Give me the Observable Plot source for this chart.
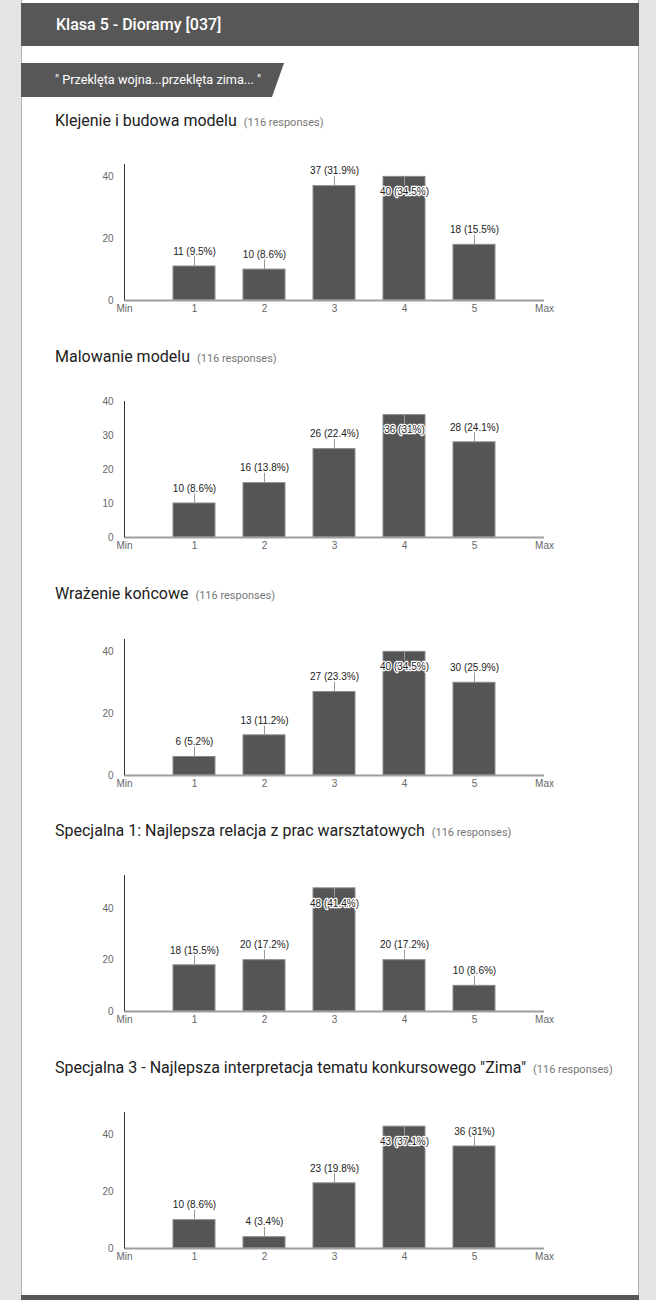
<!DOCTYPE html>
<html><head><meta charset="utf-8">
<script src="https://cdn.jsdelivr.net/npm/d3@7"></script>
<script src="https://cdn.jsdelivr.net/npm/@observablehq/plot@0.6"></script>
<style>
html,body{margin:0;padding:0;}
body{background:#e4e4e4;width:656px;height:1300px;overflow:hidden;position:relative;font-family:Roboto,"Liberation Sans",sans-serif;}
#card{position:absolute;left:21px;top:0;width:616px;height:1300px;background:#fff;border-left:1px solid #b0b0b0;border-right:1px solid #b0b0b0;}
#header{position:absolute;left:21px;top:3px;width:618px;height:43px;background:#575757;color:#fff;font-weight:500;font-size:16px;line-height:43px;box-sizing:border-box;padding-left:35px;}
#banner{position:absolute;left:21px;top:63px;width:263px;height:34px;background:#575757;color:#fff;font-size:12.7px;line-height:34px;box-sizing:border-box;padding-left:34px;clip-path:polygon(0 0,100% 0,calc(100% - 12px) 100%,0 100%);}
#footer{position:absolute;left:21px;top:1295px;width:618px;height:5px;background:#575757;}
.title{position:absolute;left:55px;height:20px;line-height:20px;font-size:16px;color:#212121;white-space:nowrap;}
.title span{font-size:11px;color:#777;margin-left:3px;}
.chart{position:absolute;left:0;}
.chart svg{overflow:visible;}
</style>
</head><body>
<div id="card"></div>
<div id="header">Klasa 5 - Dioramy [037]</div>
<div id="banner">" Przeklęta wojna...przeklęta zima... "</div>
<div id="footer"></div>
<script>
const heading = "Klasa 5 - Dioramy [037]";
const total = 116;
const xLabels = ["Min", "1", "2", "3", "4", "5", "Max"];
const scores = [1, 2, 3, 4, 5];
const questions = [
  "Klejenie i budowa modelu",
  "Malowanie modelu",
  "Wrażenie końcowe",
  "Specjalna 1: Najlepsza relacja z prac warsztatowych",
  "Specjalna 3 - Najlepsza interpretacja tematu konkursowego \"Zima\""
];
const countsKlejenie = [11, 10, 37, 40, 18];
const countsMalowanie = [10, 16, 26, 36, 28];
const countsWrazenie = [6, 13, 27, 40, 30];
const countsSpecjalna1 = [18, 20, 48, 20, 10];
const countsSpecjalna3 = [10, 4, 23, 43, 36];
const allCounts = [countsKlejenie, countsMalowanie, countsWrazenie, countsSpecjalna1, countsSpecjalna3];
const yMax = [44, 40, 44, 53, 48];
const yTicks = [[0, 20, 40], [0, 10, 20, 30, 40], [0, 20, 40], [0, 20, 40], [0, 20, 40]];

const titleTops = [111, 347, 584, 821, 1058];
const chartTops = [154, 391, 629, 865, 1102];

function makeChart(counts, ymax, ticks) {
  const data = scores.map((s, i) => ({
    score: s,
    count: counts[i],
    label: `${counts[i]} (${+(counts[i] / total * 100).toFixed(1)}%)`
  }));
  const isInside = d => (ymax - d.count) / ymax < 0.13;
  const inside = data.filter(isInside);
  const outside = data.filter(d => !isInside(d));
  return Plot.plot({
    width: 656,
    height: 168,
    marginTop: 10,
    marginBottom: 22,
    marginLeft: 124,
    marginRight: 112,
    style: {fontFamily: "'Liberation Sans', Arial, sans-serif", background: "transparent"},
    x: {type: "linear", domain: [0, 6]},
    y: {domain: [0, ymax]},
    marks: [
      Plot.rectY(data, {x1: d => d.score - 0.3, x2: d => d.score + 0.3, y1: 0, y2: "count", fill: "#555555", stroke: "#8c8c8c", strokeWidth: 1}),
      Plot.ruleY([0], {stroke: "#9e9e9e", strokeWidth: 2}),
      Plot.ruleX([0], {stroke: "#333", strokeWidth: 1}),
      Plot.ruleX(outside, {x: "score", y1: "count", y2: "count", insetTop: -10, stroke: "#9a9a9a"}),
      Plot.ruleX(inside, {x: "score", y1: "count", y2: "count", insetBottom: -9, stroke: "#9a9a9a"}),
      Plot.text(outside, {x: "score", y: "count", text: "label", dy: -15, fill: "#222", stroke: "white", strokeWidth: 3, fontSize: 10}),
      Plot.text(inside, {x: "score", y: "count", text: "label", dy: 15, fill: "#222", stroke: "white", strokeWidth: 2.5, fontSize: 10}),
      Plot.axisY({ticks: ticks, tickSize: 0, tickPadding: 11, fontSize: 10, color: "#666", label: null}),
      Plot.axisX({ticks: [0, 1, 2, 3, 4, 5, 6], tickFormat: i => xLabels[i], tickSize: 0, tickPadding: 4, fontSize: 10, color: "#666", label: null})
    ]
  });
}

questions.forEach((q, i) => {
  const t = document.createElement("div");
  t.className = "title";
  t.style.top = titleTops[i] + "px";
  t.textContent = q + " ";
  const s = document.createElement("span");
  s.textContent = `(${total} responses)`;
  t.appendChild(s);
  document.body.appendChild(t);
  const c = document.createElement("div");
  c.className = "chart";
  c.style.top = chartTops[i] + "px";
  c.appendChild(makeChart(allCounts[i], yMax[i], yTicks[i]));
  document.body.appendChild(c);
});
</script>
</body></html>
